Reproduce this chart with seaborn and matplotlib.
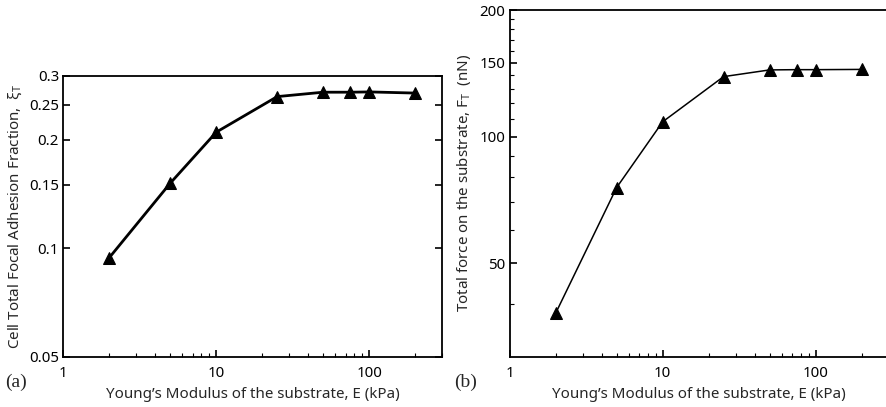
import matplotlib
matplotlib.use("Agg")
import matplotlib.pyplot as plt
import matplotlib.ticker as mticker
import seaborn as sns
import pandas as pd

# ---- data ----
modulus_kpa = [2, 5, 10, 25, 50, 75, 100, 200]
adhesion_fraction = [0.0941, 0.1513, 0.2096, 0.2630, 0.2705, 0.2705, 0.2710, 0.2690]
total_force_nN = [38.1, 75.7, 108.5, 138.9, 144.1, 144.3, 144.3, 144.5]

left_yticks = [0.05, 0.1, 0.15, 0.2, 0.25, 0.3]
left_yticklabels = ["0.05", "0.1", "0.15", "0.2", "0.25", "0.3"]
right_yticks = [50, 100, 150, 200]
right_yminor = [40, 60, 70, 80, 90, 110, 120, 130, 140, 160, 170, 180, 190]
xticks = [1, 10, 100]
xticklabels = ["1", "10", "100"]

df_a = pd.DataFrame({"E": modulus_kpa, "xi": adhesion_fraction})
df_b = pd.DataFrame({"E": modulus_kpa, "F": total_force_nN})

sns.set_theme(style="ticks")
plt.rcParams["font.family"] = ["Noto Sans", "DejaVu Sans"]
plt.rcParams["mathtext.fontset"] = "dejavusans"

fig = plt.figure(figsize=(8.86, 4.07), dpi=100)
ax1 = fig.add_axes([0.0714, 0.1236, 0.4278, 0.6897])
ax2 = fig.add_axes([0.5753, 0.1236, 0.4277, 0.8518])

sns.lineplot(data=df_a, x="E", y="xi", ax=ax1, color="black", linewidth=2.0,
             marker="^", markersize=8.5, markeredgecolor="black", markerfacecolor="black")
sns.lineplot(data=df_b, x="E", y="F", ax=ax2, color="black", linewidth=1.1,
             marker="^", markersize=8.5, markeredgecolor="black", markerfacecolor="black")

for ax in (ax1, ax2):
    ax.set_xscale("log")
    ax.set_yscale("log")
    ax.set_xlim(1, 300)
    ax.set_xticks(xticks)
    ax.set_xticklabels(xticklabels)
    ax.xaxis.set_minor_locator(mticker.LogLocator(base=10, subs=range(2, 10)))
    ax.xaxis.set_minor_formatter(mticker.NullFormatter())
    for s in ax.spines.values():
        s.set_linewidth(1.3)
        s.set_color("black")
    ax.tick_params(which="both", direction="in", colors="black", labelsize=10.8)
    ax.tick_params(axis="x", which="both", pad=7)
    ax.tick_params(axis="y", which="both", pad=3)
    ax.tick_params(which="major", length=5, width=1.2)
    ax.tick_params(which="minor", length=3, width=0.8)
    ax.set_xlabel("Young\u2019s Modulus of the substrate, E (kPa)", fontsize=10.9, labelpad=4)

ax1.set_ylim(0.05, 0.3)
ax1.set_yticks(left_yticks)
ax1.set_yticklabels(left_yticklabels)
ax1.yaxis.set_minor_locator(mticker.NullLocator())
ax1.tick_params(axis="y", which="both", right=True, left=True)
ax1.set_ylabel("Cell Total Focal Adhesion Fraction,  $\\mathregular{\\xi_T}$", fontsize=10.9, labelpad=4)

ax2.set_ylim(30, 200)
ax2.set_yticks(right_yticks)
ax2.set_yticklabels([str(v) for v in right_yticks])
ax2.yaxis.set_minor_locator(mticker.FixedLocator(right_yminor))
ax2.yaxis.set_minor_formatter(mticker.NullFormatter())
ax2.set_ylabel("Total force on the substrate, F$_\\mathregular{T}$  (nN)", fontsize=10.9, labelpad=5)

fig.text(0.006, 0.06, "(a)", family="Liberation Serif", fontsize=14, va="center", ha="left")
fig.text(0.513, 0.06, "(b)", family="Liberation Serif", fontsize=14, va="center", ha="left")

fig.savefig("out.png", dpi=100)
